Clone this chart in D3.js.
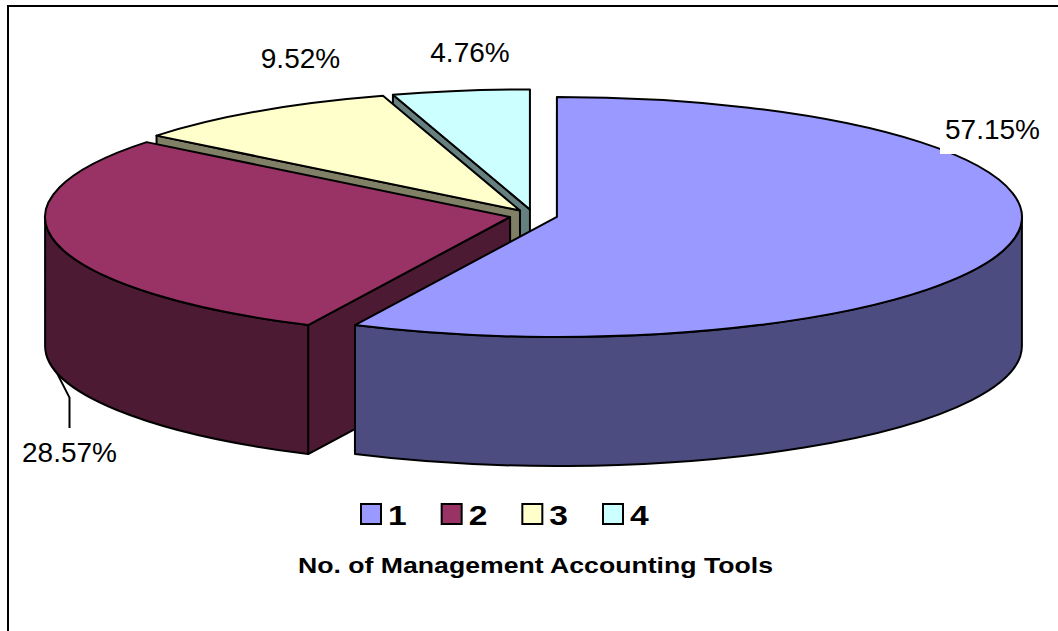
<!DOCTYPE html>
<html>
<head>
<meta charset="utf-8">
<script src="https://cdn.jsdelivr.net/npm/d3@7"></script>
<style>
  html, body { margin: 0; padding: 0; background: #fff; }
  svg { display: block; }
  text { font-family: "Liberation Sans", Arial, sans-serif; fill: #000; }
</style>
</head>
<body>
<svg id="chart" width="1058" height="631"></svg>
<script>
// ---- data ----
const categories = ["1", "2", "3", "4"];
const values = [57.15, 28.57, 9.52, 4.76];
const valueLabels = ["57.15%", "28.57%", "9.52%", "4.76%"];
const topColors = ["#9999FF", "#993366", "#FFFFCC", "#CCFFFF"];
const sideColors = ["#4C4C80", "#4D1A33", "#808066", "#668080"];
const titleText = "No. of Management Accounting Tools";

// ---- layout ----
const W = 1058, H = 631;
const cx0 = 533.5, cy0 = 215.6;   // pie center (unexploded)
const rx = 465, ry = 120;          // ellipse semi-axes of top face
const depth = 129;                 // extrusion height
const explode = 24;                // explosion distance (x units)

const svg = d3.select("#chart");

// chart-area border
svg.append("rect")
  .attr("x", 8).attr("y", 6).attr("width", W + 20).attr("height", H + 20)
  .attr("fill", "none").attr("stroke", "#000").attr("stroke-width", 2);

const pie = d3.pie().sort(null).value(d => d).startAngle(0).endAngle(2 * Math.PI);
const arcs = pie(values);

const topColor = d3.scaleOrdinal().domain(categories).range(topColors);
const sideColor = d3.scaleOrdinal().domain(categories).range(sideColors);

function centerOf(d) {
  const m = (d.startAngle + d.endAngle) / 2;
  return [cx0 + explode * Math.sin(m), cy0 - explode * (ry / rx) * Math.cos(m)];
}
function pt(c, t, dz) {
  return [c[0] + rx * Math.sin(t), c[1] - ry * Math.cos(t) + (dz || 0)];
}
function ellArc(p, sweep, large) {
  return `A${rx},${ry} 0 ${large ? 1 : 0} ${sweep} ${p[0]},${p[1]}`;
}

const g = svg.append("g");
const strokeAttrs = sel => sel.attr("stroke", "#000").attr("stroke-width", 2).attr("stroke-linejoin", "round");

// painter's order: back slices first
const order = arcs.map((d, i) => i).reverse();

order.forEach(i => {
  const d = arcs[i];
  const c = centerOf(d);
  const s = d.startAngle, e = d.endAngle;
  const key = categories[i];
  const sg = g.append("g");

  // radial side faces
  const faces = [];
  if (Math.sin(s) < -1e-6) faces.push(s);
  if (Math.sin(e) > 1e-6) faces.push(e);
  faces.forEach(t => {
    const p = pt(c, t), pb = pt(c, t, depth);
    sg.append("path")
      .attr("d", `M${c[0]},${c[1]} L${p[0]},${p[1]} L${pb[0]},${pb[1]} L${c[0]},${c[1] + depth} Z`)
      .attr("fill", sideColor(key)).call(strokeAttrs);
  });

  // outer curved wall (front half only)
  const w0 = Math.max(s, Math.PI / 2), w1 = Math.min(e, 3 * Math.PI / 2);
  if (w1 > w0) {
    const a0 = pt(c, w0), a1 = pt(c, w1), b1 = pt(c, w1, depth), b0 = pt(c, w0, depth);
    sg.append("path")
      .attr("d", `M${a0[0]},${a0[1]} ${ellArc(a1, 1, 0)} L${b1[0]},${b1[1]} ${ellArc(b0, 0, 0)} Z`)
      .attr("fill", sideColor(key)).call(strokeAttrs);
  }

  // top face
  const ps = pt(c, s), pe = pt(c, e);
  sg.append("path")
    .attr("d", `M${c[0]},${c[1]} L${ps[0]},${ps[1]} ${ellArc(pe, 1, (e - s) > Math.PI)} Z`)
    .attr("fill", topColor(key)).call(strokeAttrs);
});

// ---- data labels ----
const labelFont = 28;
const labelPlace = [
  { x: 945, y: 139, anchor: "start", box: true },
  { x: 69.5, y: 462, anchor: "middle", box: false, leader: true },
  { x: 300.5, y: 68, anchor: "middle", box: false },
  { x: 470, y: 62, anchor: "middle", box: false }
];

arcs.forEach((d, i) => {
  const lp = labelPlace[i];
  if (lp.leader) {
    const m = (d.startAngle + d.endAngle) / 2;
    const anc = pt(centerOf(d), m, depth);
    const pts = [anc, [lp.x, anc[1] + 25], [lp.x, lp.y - 34]];
    svg.append("path")
      .attr("d", d3.line()(pts))
      .attr("fill", "none").attr("stroke", "#000").attr("stroke-width", 2);
  }
  const t = svg.append("text")
    .attr("x", lp.x).attr("y", lp.y)
    .attr("text-anchor", lp.anchor)
    .attr("font-size", labelFont)
    .text(valueLabels[i]);
  if (lp.box) {
    const bb = t.node().getBBox();
    svg.insert("rect", () => t.node())
      .attr("x", bb.x - 5).attr("y", bb.y - 2)
      .attr("width", bb.width + 10).attr("height", (lp.y + 15) - (bb.y - 2))
      .attr("fill", "#fff");
  }
});

// ---- legend ----
const legX = d3.scalePoint().domain(categories).range([361, 603]);
const leg = svg.append("g");
categories.forEach((k, i) => {
  const x = legX(k);
  leg.append("rect")
    .attr("x", x).attr("y", 504).attr("width", 20).attr("height", 20)
    .attr("fill", topColor(k)).attr("stroke", "#000").attr("stroke-width", 2);
  leg.append("text")
    .attr("transform", `translate(${x + 27},525) scale(1.2,1)`)
    .attr("font-size", 28).attr("font-weight", "bold")
    .text(k);
});

// ---- title ----
svg.append("text")
  .attr("x", 298).attr("y", 573)
  .attr("font-size", 22.5).attr("font-weight", "bold")
  .attr("textLength", 475).attr("lengthAdjust", "spacingAndGlyphs")
  .text(titleText);
</script>
</body>
</html>
